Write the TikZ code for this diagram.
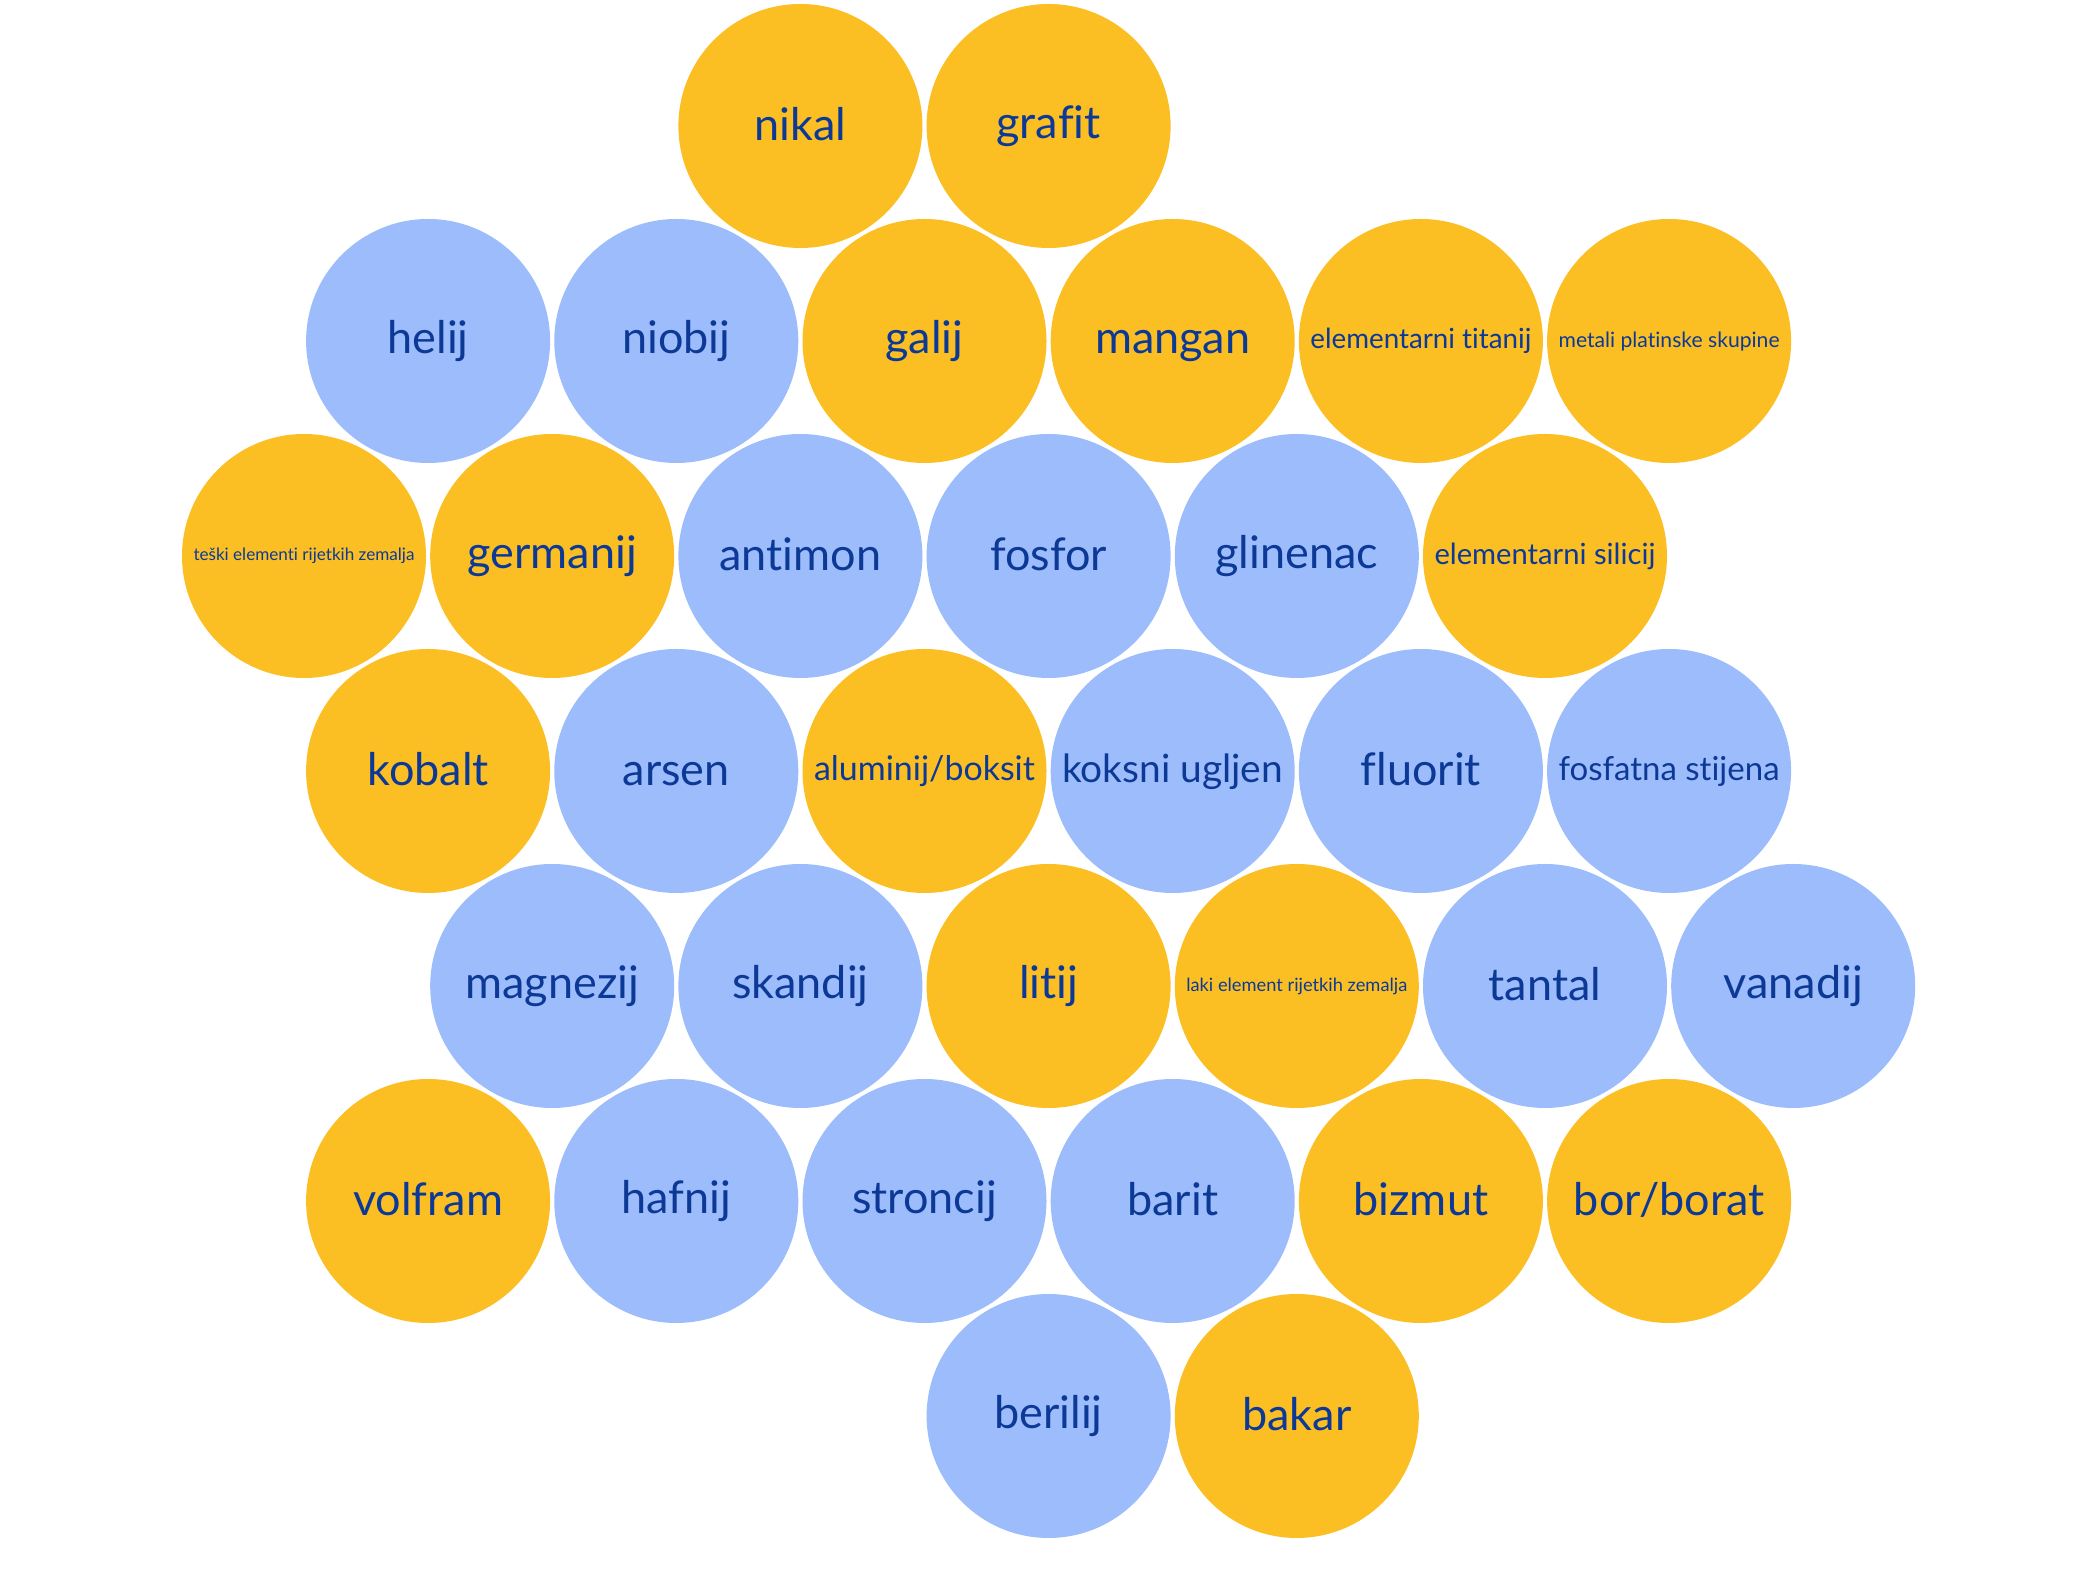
\documentclass[tikz,border=0pt]{standalone}
\usepackage{fontspec}
\setmainfont{Lato}[Ligatures=NoCommon]
\usepackage{graphicx}
\definecolor{oreamber}{HTML}{FBBF24}
\definecolor{oresky}{HTML}{9CBCFB}
\definecolor{oreink}{HTML}{0D3996}
\newcommand{\orestrut}{\vrule width 0pt height .75em depth .1em}
\newcommand{\fitlabel}[1]{\resizebox{221pt}{!}{\orestrut#1}}

\begin{document}
\begin{tikzpicture}[
      x=124.1pt, y=-215pt,
      mineral/.style={
        circle, minimum size=244pt, inner sep=0pt,
        font=\fontsize{45}{54}\selectfont\color{oreink}
      },
      amber/.style={mineral, fill=oreamber},
      sky/.style={mineral, fill=oresky},
      word/.style={execute at begin node=\orestrut}
    ]
      \useasboundingbox (-2.4497,-0.586) rectangle (14.295,6.837);

      % Row 1
      \node[amber, word] (nikal) at (4,0) {nikal};
      \node[amber, word] (grafit) at (6,0) {grafit};

      % Row 2
      \node[sky, word] (helij) at (1,1) {helij};
      \node[sky, word] (niobij) at (3,1) {niobij};
      \node[amber, word] (galij) at (5,1) {galij};
      \node[amber, word] (mangan) at (7,1) {mangan};
      \node[amber] (titanij) at (9,1) {\fitlabel{elementarni titanij}};
      \node[amber] (platina) at (11,1) {\fitlabel{metali platinske skupine}};

      % Row 3
      \node[amber] (teski) at (0,2) {\fitlabel{teški elementi rijetkih zemalja}};
      \node[amber, word] (germanij) at (2,2) {germanij};
      \node[sky, word] (antimon) at (4,2) {antimon};
      \node[sky, word] (fosfor) at (6,2) {fosfor};
      \node[sky, word] (glinenac) at (8,2) {glinenac};
      \node[amber] (silicij) at (10,2) {\fitlabel{elementarni silicij}};

      % Row 4
      \node[amber, word] (kobalt) at (1,3) {kobalt};
      \node[sky, word] (arsen) at (3,3) {arsen};
      \node[amber] (boksit) at (5,3) {\fitlabel{aluminij/boksit}};
      \node[sky] (ugljen) at (7,3) {\fitlabel{koksni ugljen}};
      \node[sky, word] (fluorit) at (9,3) {fluorit};
      \node[sky] (fosfat) at (11,3) {\fitlabel{fosfatna stijena}};

      % Row 5
      \node[sky, word] (magnezij) at (2,4) {magnezij};
      \node[sky, word] (skandij) at (4,4) {skandij};
      \node[amber, word] (litij) at (6,4) {litij};
      \node[amber] (laki) at (8,4) {\fitlabel{laki element rijetkih zemalja}};
      \node[sky, word] (tantal) at (10,4) {tantal};
      \node[sky, word] (vanadij) at (12,4) {vanadij};

      % Row 6
      \node[amber, word] (volfram) at (1,5) {volfram};
      \node[sky, word] (hafnij) at (3,5) {hafnij};
      \node[sky, word] (stroncij) at (5,5) {stroncij};
      \node[sky, word] (barit) at (7,5) {barit};
      \node[amber, word] (bizmut) at (9,5) {bizmut};
      \node[amber, word] (borat) at (11,5) {bor/borat};

      % Row 7
      \node[sky, word] (berilij) at (6,6) {berilij};
      \node[amber, word] (bakar) at (8,6) {bakar};
    \end{tikzpicture}
\end{document}
